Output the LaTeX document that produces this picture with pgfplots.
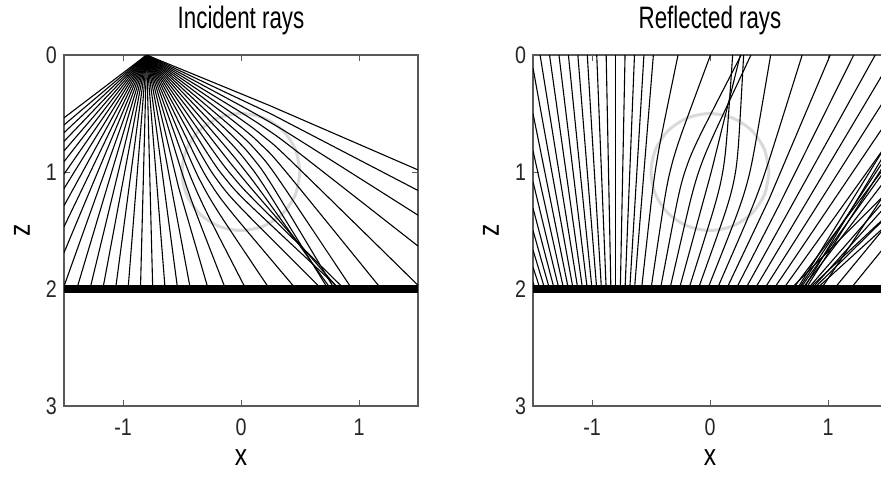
\documentclass[border=0pt]{standalone}
\usepackage{pgfplots}
\pgfplotsset{compat=1.18}
\usepackage{fontspec}
\setmainfont{Liberation Sans}[FakeStretch=0.82]
\newfontfamily\titlefont{Liberation Sans}[FakeStretch=0.72]
\pgfplotsset{
 panel/.style={
  scale only axis, width=177pt, height=175.5pt,
  xmin=-1.5, xmax=1.5, ymin=0, ymax=3, y dir=reverse,
  xtick={-1,0,1}, ytick={0,1,2,3},
  tick align=inside, major tick length=3pt,
  axis line style={gray!70!black, line width=0.6pt},
  every tick/.style={gray!70!black, line width=0.5pt},
  tick label style={font=\fontsize{12}{13}\selectfont, text=black!85},
  /pgf/number format/assume math mode=true,
  xticklabel style={yshift=-3pt},
  title style={font=\titlefont\fontsize{15.5}{16}\selectfont, at={(axis description cs:0.5,1.040)}, anchor=base, yshift=0pt},
  xlabel={x}, ylabel={z},
  label style={font=\fontsize{15}{15}\selectfont},
  xlabel style={at={(axis description cs:0.5,-0.148)}, anchor=center},
  ylabel style={at={(axis description cs:-0.119,0.5)}, anchor=center},
  clip=true,
 },
 ray/.style={black, line width=0.55pt, mark=none},
 ring/.style={gray!30, line width=1.5pt, mark=none, smooth},
 reflector/.style={black, line width=4pt, mark=none},
}
\begin{document}
\begin{tikzpicture}
% ---------------- Incident rays ----------------
\begin{axis}[panel, at={(32pt,35pt)}, anchor=south west, title={Incident rays}]
\addplot[ring] coordinates {(0.5,1) (0.462,1.191) (0.354,1.354) (0.191,1.462) (0,1.5) (-0.191,1.462) (-0.354,1.354) (-0.462,1.191) (-0.5,1) (-0.462,0.809) (-0.354,0.646) (-0.191,0.538) (0,0.5) (0.191,0.538) (0.354,0.646) (0.462,0.809) (0.5,1)};
% straight rays to the left border
\addplot[ray] coordinates {(-0.8,0) (-1.5,0.537)};
\addplot[ray] coordinates {(-0.8,0) (-1.5,0.598)};
\addplot[ray] coordinates {(-0.8,0) (-1.5,0.664)};
\addplot[ray] coordinates {(-0.8,0) (-1.5,0.738)};
\addplot[ray] coordinates {(-0.8,0) (-1.5,0.820)};
\addplot[ray] coordinates {(-0.8,0) (-1.5,0.912)};
\addplot[ray] coordinates {(-0.8,0) (-1.5,1.018)};
\addplot[ray] coordinates {(-0.8,0) (-1.5,1.142)};
\addplot[ray] coordinates {(-0.8,0) (-1.5,1.289)};
\addplot[ray] coordinates {(-0.8,0) (-1.5,1.468)};
\addplot[ray] coordinates {(-0.8,0) (-1.5,1.690)};
\addplot[ray] coordinates {(-0.8,0) (-1.5,1.977)};
% straight rays to the reflector
\addplot[ray] coordinates {(-0.8,0) (-1.392,2)};
\addplot[ray] coordinates {(-0.8,0) (-1.280,2)};
\addplot[ray] coordinates {(-0.8,0) (-1.171,2)};
\addplot[ray] coordinates {(-0.8,0) (-1.063,2)};
\addplot[ray] coordinates {(-0.8,0) (-0.957,2)};
\addplot[ray] coordinates {(-0.8,0) (-0.852,2)};
\addplot[ray] coordinates {(-0.8,0) (-0.748,2)};
\addplot[ray] coordinates {(-0.8,0) (-0.643,2)};
\addplot[ray] coordinates {(-0.8,0) (-0.537,2)};
\addplot[ray] coordinates {(-0.8,0) (-0.429,2)};
% rays bent by the lens
\addplot[ray] coordinates {(-0.8,0) (-0.530,1.127) (-0.278,2)};
\addplot[ray,smooth] coordinates {(-0.8,0) (-0.5486,0.8489) (-0.4577,1.1346) (-0.3555,1.4165) (-0.131,2)};
\addplot[ray,smooth] coordinates {(-0.8,0) (-0.4965,0.8569) (-0.3874,1.1359) (-0.2604,1.4071) (0.041,2)};
\addplot[ray,smooth] coordinates {(-0.8,0) (-0.4443,0.8587) (-0.3169,1.1291) (-0.1641,1.3861) (0.242,2)};
\addplot[ray,smooth] coordinates {(-0.8,0) (-0.3926,0.8541) (-0.2479,1.1149) (-0.0715,1.3554) (0.466,2)};
\addplot[ray,smooth] coordinates {(-0.8,0) (-0.3419,0.8436) (-0.1819,1.0947) (0.0120,1.3206) (0.683,2)};
\addplot[ray,smooth] coordinates {(-0.8,0) (-0.2932,0.8270) (-0.1211,1.0704) (0.0817,1.2888) (0.835,2)};
\addplot[ray,smooth] coordinates {(-0.8,0) (-0.2468,0.8049) (-0.0662,1.0432) (0.1357,1.2637) (0.876,2)};
\addplot[ray,smooth] coordinates {(-0.8,0) (-0.2036,0.7773) (-0.0177,1.0127) (0.1749,1.2426) (0.827,2)};
\addplot[ray,smooth] coordinates {(-0.8,0) (-0.1640,0.7447) (0.0256,0.9771) (0.2047,1.2174) (0.761,2)};
\addplot[ray,smooth] coordinates {(-0.8,0) (-0.1285,0.7076) (0.0656,0.9347) (0.2349,1.1809) (0.738,2)};
\addplot[ray,smooth] coordinates {(-0.8,0) (-0.0977,0.6664) (0.1040,0.8858) (0.2736,1.1307) (0.792,2)};
\addplot[ray,smooth] coordinates {(-0.8,0) (-0.0721,0.6216) (0.1405,0.8302) (0.3218,1.0664) (0.941,2)};
\addplot[ray,smooth] coordinates {(-0.8,0) (-0.0519,0.5740) (0.1737,0.7695) (0.3744,0.9903) (1.189,2)};
\addplot[ray,smooth] coordinates {(-0.8,0) (-0.0376,0.5240) (0.2012,0.7042) (0.4231,0.9047) (1.5,1.968)};
\addplot[ray,smooth] coordinates {(-0.8,0) (-0.0292,0.4723) (0.2216,0.6364) (0.4622,0.8148) (1.5,1.633)};
\addplot[ray,smooth] coordinates {(-0.8,0) (-0.0270,0.4197) (0.2340,0.5675) (0.4896,0.7242) (1.5,1.369)};
\addplot[ray] coordinates {(-0.8,0) (0.2398,0.4959) (1.5,1.158)};
\addplot[ray] coordinates {(-0.8,0) (0.2360,0.4291) (1.5,0.982)};
\addplot[reflector] coordinates {(-1.5,2) (1.5,2)};
\end{axis}
% ---------------- Reflected rays ----------------
\begin{axis}[panel, at={(266.5pt,35pt)}, anchor=south west, title={Reflected rays}]
\addplot[ring] coordinates {(0.5,1) (0.462,1.191) (0.354,1.354) (0.191,1.462) (0,1.5) (-0.191,1.462) (-0.354,1.354) (-0.462,1.191) (-0.5,1) (-0.462,0.809) (-0.354,0.646) (-0.191,0.538) (0,0.5) (0.191,0.538) (0.354,0.646) (0.462,0.809) (0.5,1)};
% left fan
\addplot[ray] coordinates {(-1.48,2) (-1.5,1.941)};
\addplot[ray] coordinates {(-1.44,2) (-1.5,1.813)};
\addplot[ray] coordinates {(-1.40,2) (-1.5,1.667)};
\addplot[ray] coordinates {(-1.36,2) (-1.5,1.500)};
\addplot[ray] coordinates {(-1.32,2) (-1.5,1.308)};
\addplot[ray] coordinates {(-1.28,2) (-1.5,1.083)};
\addplot[ray] coordinates {(-1.24,2) (-1.5,0.818)};
\addplot[ray] coordinates {(-1.20,2) (-1.5,0.500)};
\addplot[ray] coordinates {(-1.16,2) (-1.5,0.111)};
\addplot[ray] coordinates {(-1.12,2) (-1.44,0)};
\addplot[ray] coordinates {(-1.08,2) (-1.36,0)};
\addplot[ray] coordinates {(-1.04,2) (-1.28,0)};
\addplot[ray] coordinates {(-1.00,2) (-1.20,0)};
\addplot[ray] coordinates {(-0.96,2) (-1.12,0)};
\addplot[ray] coordinates {(-0.92,2) (-1.04,0)};
\addplot[ray] coordinates {(-0.88,2) (-0.96,0)};
\addplot[ray] coordinates {(-0.84,2) (-0.88,0)};
\addplot[ray] coordinates {(-0.80,2) (-0.80,0)};
\addplot[ray] coordinates {(-0.76,2) (-0.72,0)};
\addplot[ray] coordinates {(-0.72,2) (-0.64,0)};
\addplot[ray] coordinates {(-0.68,2) (-0.56,0)};
\addplot[ray] coordinates {(-0.64,2) (-0.48,0)};
% rays bent by the lens on the way up
\addplot[ray,smooth] coordinates {(-0.58,2) (-0.497,1.247) (-0.4575,0.9499) (-0.4044,0.6548) (-0.271,0)};
\addplot[ray,smooth] coordinates {(-0.50,2) (-0.3869,1.2452) (-0.3278,0.9523) (-0.2395,0.6667) (0.004,0)};
\addplot[ray,smooth] coordinates {(-0.42,2) (-0.2778,1.2523) (-0.2019,0.9644) (-0.086,0.6901) (0.264,0)};
\addplot[ray,smooth] coordinates {(-0.34,2) (-0.1718,1.2681) (-0.0899,0.9808) (0.0215,0.7035) (0.347,0)};
\addplot[ray,smooth] coordinates {(-0.26,2) (-0.0687,1.292) (0.0095,1.0024) (0.0815,0.7112) (0.257,0)};
\addplot[ray,smooth] coordinates {(-0.18,2) (0.0295,1.3231) (0.1015,1.0334) (0.1395,0.7372) (0.192,0)};
\addplot[ray,smooth] coordinates {(-0.10,2) (0.1238,1.3611) (0.2025,1.0739) (0.2400,0.7785) (0.285,0)};
\addplot[ray,smooth] coordinates {(-0.02,2) (0.2124,1.4048) (0.3068,1.1213) (0.3720,0.8296) (0.514,0)};
\addplot[ray,smooth] coordinates {(0.06,2) (0.2953,1.4535) (0.4065,1.1753) (0.5031,0.8915) (0.781,0)};
\addplot[ray] coordinates {(0.14,2) (0.4996,1.2344) (1.019,0)};
\addplot[ray] coordinates {(0.22,2) (0.5793,1.2952) (1.218,0)};
% right fan
\addplot[ray] coordinates {(0.30,2) (1.40,0)};
\addplot[ray] coordinates {(0.38,2) (1.5,0.102)};
\addplot[ray] coordinates {(0.46,2) (1.5,0.349)};
\addplot[ray] coordinates {(0.54,2) (1.5,0.567)};
\addplot[ray] coordinates {(0.62,2) (1.5,0.761)};
\addplot[ray] coordinates {(0.70,2) (1.5,0.933)};
% focused bundle
\addplot[ray] coordinates {(0.683,2) (1.5,1.173)};
\addplot[ray] coordinates {(0.835,2) (1.5,1.372)};
\addplot[ray] coordinates {(0.876,2) (1.5,1.379)};
\addplot[ray] coordinates {(0.827,2) (1.5,1.219)};
\addplot[ray] coordinates {(0.761,2) (1.5,0.961)};
\addplot[ray] coordinates {(0.738,2) (1.5,0.759)};
\addplot[ray] coordinates {(0.792,2) (1.5,0.813)};
\addplot[ray] coordinates {(0.941,2) (1.5,1.158)};
\addplot[ray] coordinates {(1.189,2) (1.5,1.614)};
\addplot[ray] coordinates {(0.780,2) (1.5,1.050)};
\addplot[ray] coordinates {(0.810,2) (1.5,0.900)};
\addplot[ray] coordinates {(0.860,2) (1.5,1.280)};
\addplot[ray] coordinates {(0.900,2) (1.5,1.450)};
\addplot[ray] coordinates {(0.750,2) (1.5,0.860)};
\addplot[ray] coordinates {(1.050,2) (1.5,1.450)};
\addplot[reflector] coordinates {(-1.5,2) (1.5,2)};
\end{axis}
\pgfresetboundingbox
\path (0,0) rectangle (440.5pt,238pt);
\end{tikzpicture}
\end{document}
